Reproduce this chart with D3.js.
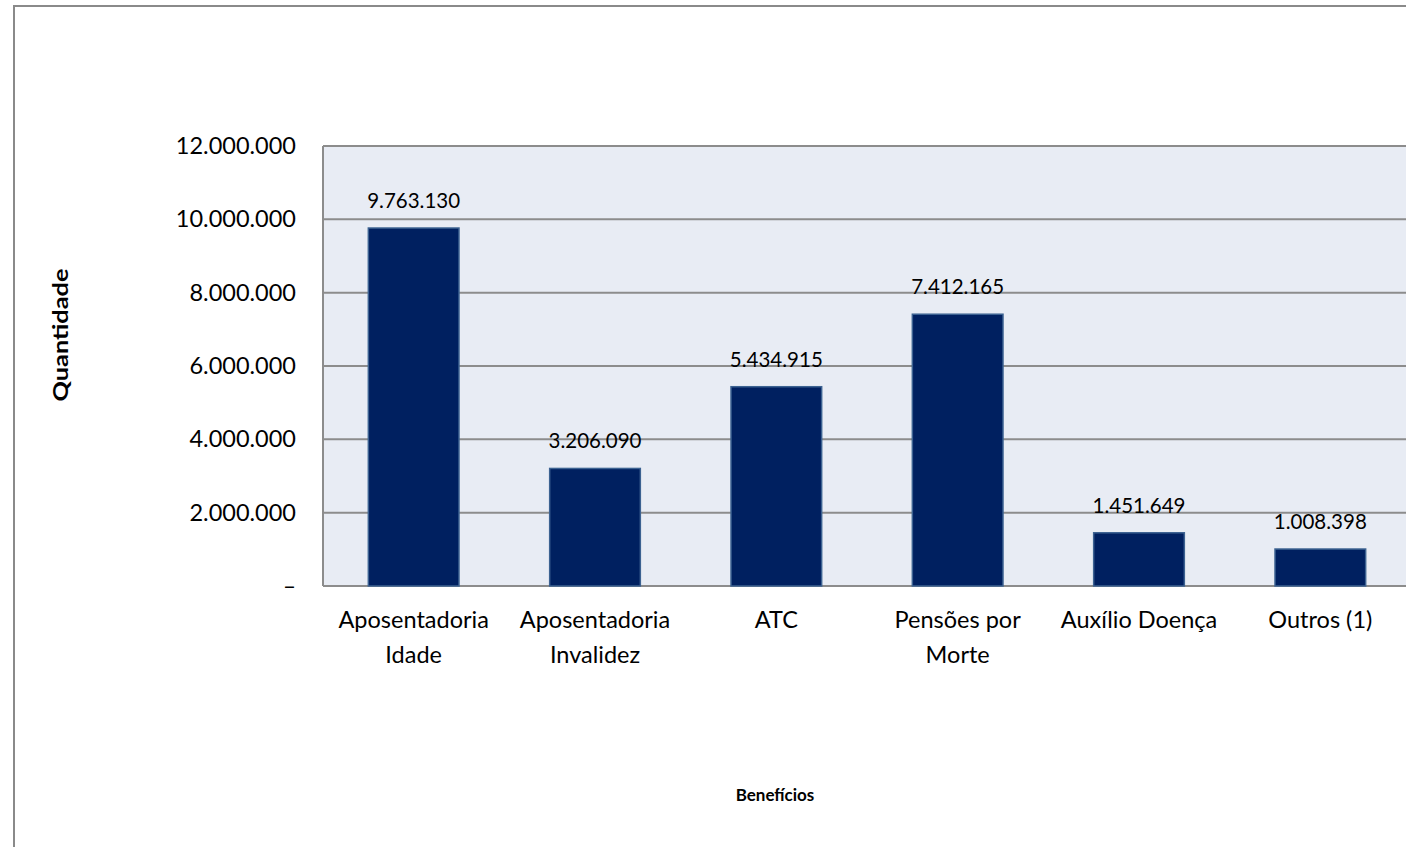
<!DOCTYPE html>
<html>
<head>
<meta charset="utf-8">
<script src="https://cdn.jsdelivr.net/npm/d3@7"></script>
<style>
  html, body { margin: 0; padding: 0; background: #ffffff; overflow: hidden; }
  svg { display: block; font-family: Lato, "Open Sans", sans-serif; }
</style>
</head>
<body>
<svg id="chart" width="1406" height="847"></svg>
<script>
// Benefícios por espécie: quantidade
const categories = [
  ["Aposentadoria", "Idade"],
  ["Aposentadoria", "Invalidez"],
  ["ATC"],
  ["Pensões por", "Morte"],
  ["Auxílio Doença"],
  ["Outros (1)"]
];
const values = [9763130, 3206090, 5434915, 7412165, 1451649, 1008398];
const yTicks = [0, 2000000, 4000000, 6000000, 8000000, 10000000, 12000000];
const yTitle = "Quantidade";
const xTitle = "Benefícios";

const svg = d3.select("#chart");

// Outer chart frame (runs past the right and bottom edges of the view)
svg.append("rect")
  .attr("x", 14).attr("y", 6)
  .attr("width", 1500).attr("height", 1000)
  .attr("fill", "#ffffff")
  .attr("stroke", "#8a8a8a").attr("stroke-width", 2);

const plot = { left: 323, top: 146, bottom: 586, right: 1411 };

const keys = categories.map(c => c.join(" "));
const x = d3.scaleBand()
  .domain(keys)
  .range([plot.left, plot.right])
  .paddingInner(0.5)
  .paddingOuter(0.25);

const y = d3.scaleLinear()
  .domain([0, 12000000])
  .range([plot.bottom, plot.top]);

// Plot background
svg.append("rect")
  .attr("x", plot.left).attr("y", plot.top)
  .attr("width", plot.right - plot.left).attr("height", plot.bottom - plot.top)
  .attr("fill", "#e8ecf4");

// Horizontal gridlines
svg.append("g")
  .selectAll("line")
  .data(yTicks)
  .join("line")
  .attr("x1", plot.left).attr("x2", plot.right)
  .attr("y1", d => y(d)).attr("y2", d => y(d))
  .attr("stroke", "#8c8c8c").attr("stroke-width", 2);

// Left plot border
svg.append("line")
  .attr("x1", plot.left).attr("x2", plot.left)
  .attr("y1", plot.top).attr("y2", plot.bottom)
  .attr("stroke", "#8c8c8c").attr("stroke-width", 2);

// Y axis labels
const fmt = d3.formatLocale({ decimal: ",", thousands: ".", grouping: [3], currency: ["R$", ""] }).format(",.0f");
const yAxis = d3.axisLeft(y)
  .tickValues(yTicks)
  .tickSize(0)
  .tickPadding(27)
  .tickFormat(d => d === 0 ? "–" : fmt(d));
svg.append("g")
  .attr("transform", `translate(${plot.left},0)`)
  .call(yAxis)
  .call(g => g.select(".domain").remove())
  .call(g => g.selectAll("text")
    .attr("font-family", "Lato, sans-serif")
    .attr("font-size", 23.5)
    .attr("fill", "#000"))
  .call(g => g.selectAll(".tick")
    .filter(d => d === 0)
    .select("text")
    .attr("textLength", 13)
    .attr("lengthAdjust", "spacingAndGlyphs"));

// Bars
svg.append("g")
  .selectAll("rect")
  .data(values)
  .join("rect")
  .attr("x", (d, i) => x(keys[i]))
  .attr("y", d => y(d))
  .attr("width", x.bandwidth())
  .attr("height", d => y(0) - y(d))
  .attr("fill", "#002060")
  .attr("stroke", "#3c6291").attr("stroke-width", 1.5);

// Value labels
svg.append("g")
  .selectAll("text")
  .data(values)
  .join("text")
  .attr("x", (d, i) => x(keys[i]) + x.bandwidth() / 2)
  .attr("y", d => y(d) - 20)
  .attr("text-anchor", "middle")
  .attr("font-size", 20.5)
  .attr("fill", "#000")
  .text(d => fmt(d));

// Category labels
const catG = svg.append("g");
categories.forEach((lines, i) => {
  const t = catG.append("text")
    .attr("x", x(keys[i]) + x.bandwidth() / 2)
    .attr("y", 628)
    .attr("text-anchor", "middle")
    .attr("font-size", 23.5)
    .attr("fill", "#000");
  lines.forEach((ln, j) => {
    t.append("tspan")
      .attr("x", x(keys[i]) + x.bandwidth() / 2)
      .attr("dy", j === 0 ? 0 : 35)
      .text(ln);
  });
});

// Axis titles
svg.append("text")
  .attr("x", 775).attr("y", 801)
  .attr("text-anchor", "middle")
  .attr("font-size", 17).attr("font-weight", "bold")
  .attr("fill", "#000")
  .text(xTitle);

svg.append("text")
  .attr("transform", "translate(68,335) rotate(-90)")
  .attr("text-anchor", "middle")
  .attr("font-size", 20).attr("font-weight", "bold")
  .attr("textLength", 133).attr("lengthAdjust", "spacingAndGlyphs")
  .attr("fill", "#000")
  .text(yTitle);
</script>
</body>
</html>
